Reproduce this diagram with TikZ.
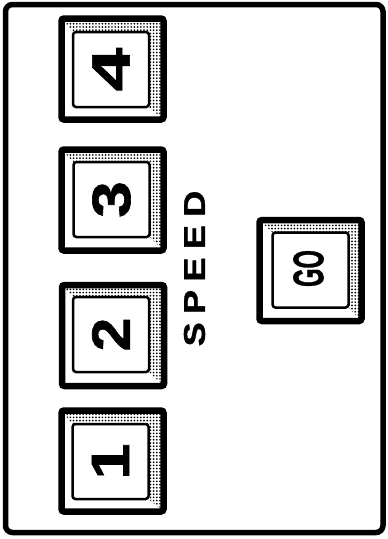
\documentclass[tikz,border=0pt]{standalone}
\usepackage{fontspec}
\setmainfont{Liberation Sans}
\newfontfamily\heavyfont{Liberation Sans Bold}[FakeBold=1.2]
\usetikzlibrary{patterns.meta}
\pgfdeclarelayer{background}
\pgfsetlayers{background,main}
\tikzset{
  panelframe/.style={draw, line width=5.5pt, rounded corners=7pt, inner sep=0pt, outer sep=0pt,
    minimum width=377.5pt, minimum height=528pt},
  bezel/.style={draw, line width=6.5pt, rounded corners=2.5pt, minimum width=102pt,
    minimum height=101pt, inner sep=0pt, outer sep=0pt},
  keyface/.style={draw, fill=white, line width=2.5pt, rounded corners=3pt, minimum width=76pt,
    minimum height=75pt, inner sep=0pt, outer sep=0pt},
  stipple/.style={pattern={Dots[distance=3.2pt, radius=0.95pt]}},
  digit/.style={rotate=90, font=\fontsize{54}{54}\heavyfont, inner sep=0pt},
  legend/.style={rotate=90, font=\fontsize{30}{30}\heavyfont, inner sep=0pt},
  golegend/.style={rotate=90, font=\fontsize{43}{43}\heavyfont, inner sep=0pt},
}
\newcommand{\bevelfill}[2]{%
  \begin{pgfonlayer}{background}
    \fill[stipple] (#1.north west) -- (#1.north east) -- (#1.south east)
      -- (#2.south east) -- (#2.north east) -- (#2.north west) -- cycle;
  \end{pgfonlayer}}
\begin{document}
\begin{tikzpicture}[x=1pt, y=-1pt]
\useasboundingbox (0,0) rectangle (388,539);
\node[panelframe] (frame) at (194.25,268.5) {};

% button 4
\node[bezel] (o4) at (112.5,69) {};
\node[keyface] (i4) at (111,69.5) {};
\bevelfill{o4}{i4}
\node[digit] (l4) at (i4.center) {\scalebox{1.45}[1]{4}};

% button 3
\node[bezel] (o3) at (112.5,200) {};
\node[keyface] (i3) at (111.5,199.5) {};
\bevelfill{o3}{i3}
\node[digit] (l3) at (i3.center) {\scalebox{1.22}[1]{3}};

% button 2
\node[bezel] (o2) at (113,335.5) {};
\node[keyface] (i2) at (111,334.5) {};
\bevelfill{o2}{i2}
\node[digit] (l2) at (i2.center) {\scalebox{1.12}[1]{2}};

% button 1
\node[bezel] (o1) at (112.5,461) {};
\node[keyface] (i1) at (110.5,461.5) {};
\bevelfill{o1}{i1}
\node[digit] (l1) at (i1.center) {\scalebox{1.2}[1]{1}};

% GO button
\node[bezel] (ogo) at (310.5,270.5) {};
\node[keyface] (igo) at (310.5,270) {};
\bevelfill{ogo}{igo}
\node[golegend] (lgo) at (308.5,268.5) {\scalebox{0.55}[1]{GO}};

% SPEED legend
\node[legend] (speed) at (194.5,268.5)
  {\scalebox{1.2}[1]{S\hspace{7pt}P\hspace{7pt}E\hspace{7pt}E\hspace{7pt}D}};
\end{tikzpicture}
\end{document}
